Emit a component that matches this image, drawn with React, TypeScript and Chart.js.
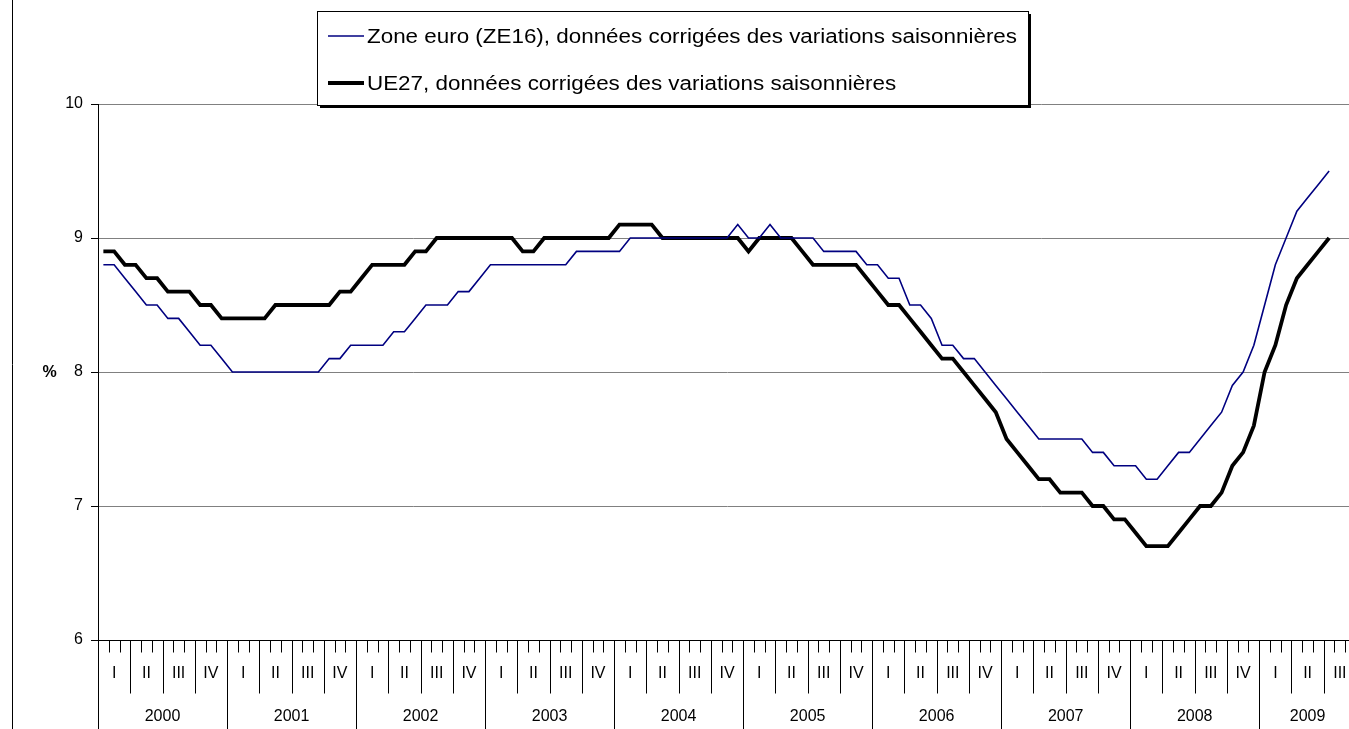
import React, { useEffect, useRef } from "react";
import { Chart, registerables } from "chart.js";

Chart.register(...registerables);

// ---------- DATA ----------
const YEARS = ["2000", "2001", "2002", "2003", "2004", "2005", "2006", "2007", "2008", "2009"];
const MONTHS_IN_YEAR = [12, 12, 12, 12, 12, 12, 12, 12, 12, 9];
const QUARTER_LABELS = ["I", "II", "III", "IV"];
const Y_TICKS = [6, 7, 8, 9, 10];
const Y_TITLE = "%";

const SERIES_NAMES = [
  "Zone euro (ZE16), données corrigées des variations saisonnières",
  "UE27, données corrigées des variations saisonnières",
];

const ZE16 = [
  8.8, 8.8, 8.7, 8.6, 8.5, 8.5, 8.4, 8.4, 8.3, 8.2, 8.2, 8.1,
  8.0, 8.0, 8.0, 8.0, 8.0, 8.0, 8.0, 8.0, 8.0, 8.1, 8.1, 8.2,
  8.2, 8.2, 8.2, 8.3, 8.3, 8.4, 8.5, 8.5, 8.5, 8.6, 8.6, 8.7,
  8.8, 8.8, 8.8, 8.8, 8.8, 8.8, 8.8, 8.8, 8.9, 8.9, 8.9, 8.9,
  8.9, 9.0, 9.0, 9.0, 9.0, 9.0, 9.0, 9.0, 9.0, 9.0, 9.0, 9.1,
  9.0, 9.0, 9.1, 9.0, 9.0, 9.0, 9.0, 8.9, 8.9, 8.9, 8.9, 8.8,
  8.8, 8.7, 8.7, 8.5, 8.5, 8.4, 8.2, 8.2, 8.1, 8.1, 8.0, 7.9,
  7.8, 7.7, 7.6, 7.5, 7.5, 7.5, 7.5, 7.5, 7.4, 7.4, 7.3, 7.3,
  7.3, 7.2, 7.2, 7.3, 7.4, 7.4, 7.5, 7.6, 7.7, 7.9, 8.0, 8.2,
  8.5, 8.8, 9.0, 9.2, 9.3, 9.4, 9.5, null, null,
];

const UE27 = [
  8.9, 8.9, 8.8, 8.8, 8.7, 8.7, 8.6, 8.6, 8.6, 8.5, 8.5, 8.4,
  8.4, 8.4, 8.4, 8.4, 8.5, 8.5, 8.5, 8.5, 8.5, 8.5, 8.6, 8.6,
  8.7, 8.8, 8.8, 8.8, 8.8, 8.9, 8.9, 9.0, 9.0, 9.0, 9.0, 9.0,
  9.0, 9.0, 9.0, 8.9, 8.9, 9.0, 9.0, 9.0, 9.0, 9.0, 9.0, 9.0,
  9.1, 9.1, 9.1, 9.1, 9.0, 9.0, 9.0, 9.0, 9.0, 9.0, 9.0, 9.0,
  8.9, 9.0, 9.0, 9.0, 9.0, 8.9, 8.8, 8.8, 8.8, 8.8, 8.8, 8.7,
  8.6, 8.5, 8.5, 8.4, 8.3, 8.2, 8.1, 8.1, 8.0, 7.9, 7.8, 7.7,
  7.5, 7.4, 7.3, 7.2, 7.2, 7.1, 7.1, 7.1, 7.0, 7.0, 6.9, 6.9,
  6.8, 6.7, 6.7, 6.7, 6.8, 6.9, 7.0, 7.0, 7.1, 7.3, 7.4, 7.6,
  8.0, 8.2, 8.5, 8.7, 8.8, 8.9, 9.0, null, null,
];

// month categories built from years
const CATEGORIES: string[] = [];
const CAT_MONTH: number[] = [];
YEARS.forEach((y, yi) => {
  for (let m = 0; m < MONTHS_IN_YEAR[yi]; m++) {
    CATEGORIES.push(`${y}-${String(m + 1).padStart(2, "0")}`);
    CAT_MONTH.push(m);
  }
});

const FONT = "'Liberation Sans', Arial, sans-serif";

function stretchText(ctx: CanvasRenderingContext2D, text: string, x: number, y: number, font: string, sx: number) {
  ctx.save();
  ctx.translate(x, y);
  ctx.scale(sx, 1);
  ctx.font = font;
  ctx.textAlign = "left";
  ctx.textBaseline = "alphabetic";
  ctx.fillStyle = "#000";
  ctx.fillText(text, 0, 0);
  ctx.restore();
}

const decorPlugin = {
  id: "decor",
  beforeDraw(chart: any) {
    const ctx = chart.ctx as CanvasRenderingContext2D;
    ctx.save();
    ctx.fillStyle = "#fff";
    ctx.fillRect(0, 0, chart.width, chart.height);
    ctx.strokeStyle = "#000";
    ctx.lineWidth = 1;
    ctx.beginPath();
    ctx.moveTo(12.5, 0);
    ctx.lineTo(12.5, chart.height);
    ctx.stroke();
    ctx.restore();
  },
  afterDraw(chart: any) {
    const ctx = chart.ctx as CanvasRenderingContext2D;
    const xs = chart.scales.x;
    const ys = chart.scales.y;
    const area = chart.chartArea;
    const n = CATEGORIES.length;
    const w = xs.getPixelForValue(1) - xs.getPixelForValue(0);
    const x0 = xs.getPixelForValue(0) - w / 2;
    const edge = (i: number) => x0 + i * w;
    const top = Math.round(area.bottom) + 0.5;

    ctx.save();
    ctx.strokeStyle = "#000";
    ctx.lineWidth = 1;
    // axis lines
    ctx.beginPath();
    ctx.moveTo(Math.round(area.left) + 0.5, area.top);
    ctx.lineTo(Math.round(area.left) + 0.5, top);
    ctx.moveTo(area.left, top);
    ctx.lineTo(area.right, top);
    ctx.stroke();

    // ticks and separators
    ctx.beginPath();
    for (let i = 0; i <= n; i++) {
      const px = Math.round(edge(i)) + 0.5;
      const m = i < n ? CAT_MONTH[i] : 0;
      let len = 12;
      if (m === 0) len = chart.height - top;
      else if (m % 3 === 0) len = 53;
      ctx.moveTo(px, top);
      ctx.lineTo(px, top + len);
    }
    ctx.stroke();

    // quarter & year labels
    ctx.fillStyle = "#000";
    ctx.textAlign = "center";
    ctx.textBaseline = "middle";
    ctx.font = `16px ${FONT}`;
    let start = 0;
    YEARS.forEach((y, yi) => {
      const cnt = MONTHS_IN_YEAR[yi];
      for (let q = 0; q * 3 < cnt; q++) {
        const a = edge(start + q * 3);
        const b = edge(start + Math.min(cnt, q * 3 + 3));
        ctx.fillText(QUARTER_LABELS[q], (a + b) / 2, 674);
      }
      ctx.fillText(y, (edge(start) + edge(start + cnt)) / 2, 717);
      start += cnt;
    });

    // y title
    ctx.font = `bold 16px ${FONT}`;
    ctx.fillText(Y_TITLE, 49.5, ys.getPixelForValue(8) + 1);

    // legend
    const L = 317, T = 11, R = 1028, B = 105;
    ctx.fillStyle = "#000";
    ctx.fillRect(L + 3, T + 3, R - L, B - T);
    ctx.fillStyle = "#fff";
    ctx.fillRect(L, T, R - L, B - T);
    ctx.strokeStyle = "#000";
    ctx.lineWidth = 1;
    ctx.strokeRect(L + 0.5, T + 0.5, R - L, B - T);

    const font = `20px ${FONT}`;
    ctx.font = font;
    const sx = 650 / ctx.measureText(SERIES_NAMES[0]).width;
    const rows = [36, 83];
    chart.data.datasets.forEach((ds: any, di: number) => {
      ctx.strokeStyle = ds.borderColor;
      ctx.lineWidth = ds.borderWidth;
      ctx.beginPath();
      ctx.moveTo(328, rows[di]);
      ctx.lineTo(364, rows[di]);
      ctx.stroke();
      stretchText(ctx, ds.label, 367, rows[di] + 7, font, sx);
    });
    ctx.restore();
  },
};

export default function App() {
  const ref = useRef<HTMLCanvasElement | null>(null);
  useEffect(() => {
    if (!ref.current) return;
    const chart = new Chart(ref.current, {
      type: "line",
      data: {
        labels: CATEGORIES,
        datasets: [
          {
            label: SERIES_NAMES[0],
            data: ZE16,
            borderColor: "#000080",
            borderWidth: 1.6,
            pointRadius: 0,
            tension: 0,
            fill: false,
          },
          {
            label: SERIES_NAMES[1],
            data: UE27,
            borderColor: "#000000",
            borderWidth: 3.8,
            pointRadius: 0,
            tension: 0,
            fill: false,
          },
        ],
      },
      options: {
        animation: false,
        responsive: false,
        devicePixelRatio: 1,
        layout: { padding: { top: 104, right: 4, left: 0, bottom: 0 } },
        plugins: { legend: { display: false }, tooltip: { enabled: false }, title: { display: false } },
        scales: {
          x: {
            type: "category",
            offset: true,
            grid: { display: false },
            border: { display: false },
            ticks: { display: false },
            afterFit: (s: any) => { s.height = 89; },
          },
          y: {
            min: 6,
            max: 10,
            afterBuildTicks: (s: any) => { s.ticks = Y_TICKS.map((v) => ({ value: v })); },
            ticks: { color: "#000", font: { family: FONT, size: 16 }, padding: 8 },
            grid: {
              color: (c: any) => (c.tick && c.tick.value === 6 ? "#000" : "#808080"),
              tickColor: "#000",
              tickLength: 7,
              lineWidth: 1,
            },
            border: { display: true, color: "#000" },
            afterFit: (s: any) => { s.width = 98; },
          },
        },
      },
      plugins: [decorPlugin],
    });
    return () => chart.destroy();
  }, []);
  return (
    <div style={{ position: "fixed", left: 0, top: 0, width: 1349, height: 729, overflow: "hidden", background: "#fff" }}>
      <canvas ref={ref} width={1360} height={729} style={{ display: "block", width: 1360, height: 729 }} />
    </div>
  );
}
